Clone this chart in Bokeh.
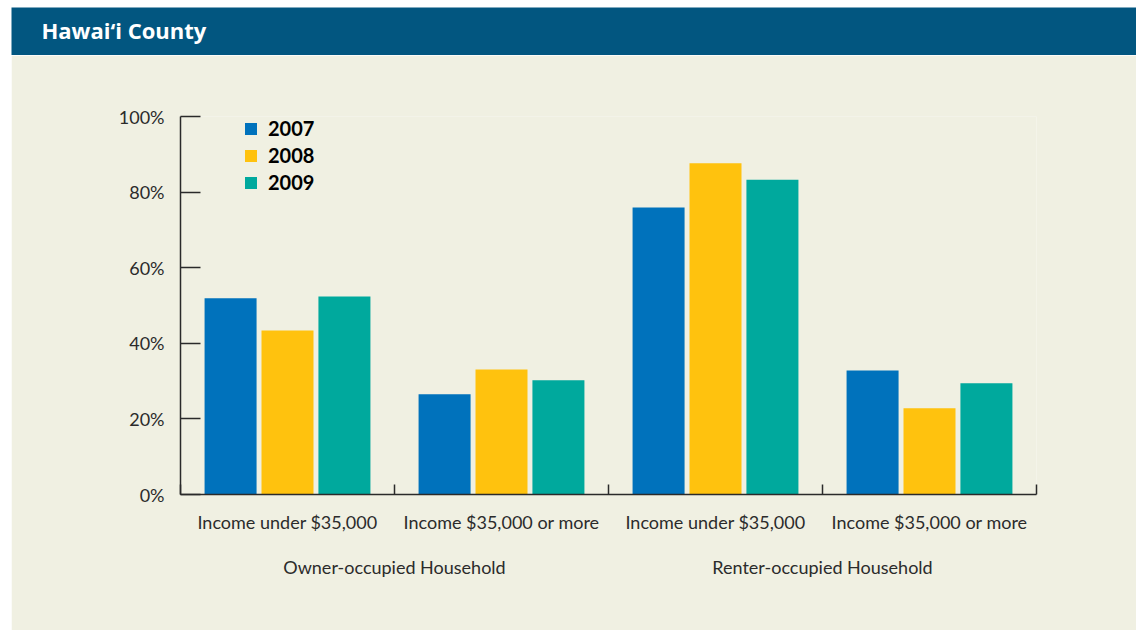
from bokeh.plotting import figure
from bokeh.models import (Range1d, FixedTicker, LinearAxis, Legend, LegendItem,
                          Label, Spacer, PrintfTickFormatter)
from bokeh.layouts import row, column
from bokeh.embed import file_html
from bokeh.resources import INLINE

# ---- data ----
title = "Hawai\u2018i County"
categories = ["Income under $35,000", "Income $35,000 or more",
              "Income under $35,000", "Income $35,000 or more"]
groups = ["Owner-occupied Household", "Renter-occupied Household"]
years = ["2007", "2008", "2009"]
v2007 = [51.9, 26.5, 75.9, 32.8]
v2008 = [43.4, 33.1, 87.6, 22.8]
v2009 = [52.4, 30.2, 83.3, 29.4]
y_ticks = [0, 20, 40, 60, 80, 100]

# ---- style ----
BG = "#F0F0E2"
HEAD = "#025680"
AX = "#2a2a2a"
TXT = "#2b2b2b"
FONT = "Lato"
TFONT = "Open Sans"
colors = ["#0072BC", "#FFC20E", "#00A99D"]
offsets = [-0.266, 0.0, 0.266]
bar_w = 0.243
W = 1125

# ---- header ----
h = figure(width=W, height=48, x_range=Range1d(0, 1), y_range=Range1d(0, 1),
           output_backend="svg", toolbar_location=None, min_border=0,
           x_axis_type=None, y_axis_type=None,
           background_fill_color=HEAD, border_fill_color=HEAD, outline_line_color=None)
h.add_layout(Label(x=30, y=26, x_units="screen", y_units="screen", text=title,
                   text_color="white", text_font=TFONT, text_font_size="22px",
                   text_font_style="bold", text_baseline="middle"))

# ---- main chart ----
p = figure(width=W, height=575, x_range=Range1d(0, 4), y_range=Range1d(0, 100),
           output_backend="svg", toolbar_location=None,
           min_border_left=169, min_border_right=100, min_border_top=61, min_border_bottom=136,
           x_axis_type=None, y_axis_type=None,
           background_fill_color=BG, border_fill_color=BG, outline_line_color=None)

series = [v2007, v2008, v2009]
renderers = []
for k, vals in enumerate(series):
    xs = [i + 0.5 + offsets[k] for i in range(len(categories))]
    r = p.vbar(x=xs, top=vals, width=bar_w, bottom=0, fill_color=colors[k], line_color=None)
    renderers.append(r)

yaxis = LinearAxis(ticker=FixedTicker(ticks=y_ticks), formatter=PrintfTickFormatter(format="%d%%"),
                   major_tick_in=20, major_tick_out=0, minor_tick_line_color=None,
                   axis_line_color=AX, axis_line_width=1.5,
                   major_tick_line_color=AX, major_tick_line_width=1.5,
                   major_label_standoff=16, major_label_text_font=FONT,
                   major_label_text_font_size="18px", major_label_text_color=TXT)
p.add_layout(yaxis, "left")

centers = [i + 0.5 for i in range(len(categories))]
bounds = [i for i in range(len(categories) + 1)]
xaxis = LinearAxis(ticker=FixedTicker(ticks=centers, minor_ticks=bounds),
                   major_label_overrides={c: lab for c, lab in zip(centers, categories)},
                   major_tick_line_color=None, major_tick_in=0, major_tick_out=0,
                   minor_tick_in=10, minor_tick_out=0, minor_tick_line_color=AX, minor_tick_line_width=1.5,
                   axis_line_color=AX, axis_line_width=1.5,
                   major_label_standoff=16, major_label_text_font=FONT,
                   major_label_text_font_size="18px", major_label_text_color=TXT)
p.add_layout(xaxis, "below")

gcent = [1, 3]
gaxis = LinearAxis(ticker=FixedTicker(ticks=gcent),
                   major_label_overrides={c: lab for c, lab in zip(gcent, groups)},
                   axis_line_color=None, major_tick_line_color=None, minor_tick_line_color=None,
                   major_tick_in=0, major_tick_out=0,
                   major_label_standoff=20, major_label_text_font=FONT,
                   major_label_text_font_size="18px", major_label_text_color=TXT)
p.add_layout(gaxis, "below")

legend = Legend(items=[LegendItem(label=y, renderers=[r]) for y, r in zip(years, renderers)],
                location=(63, 300), padding=0, margin=0, spacing=3,
                glyph_width=15, glyph_height=15, label_height=21, label_standoff=10,
                label_text_font=FONT, label_text_font_size="20px", label_text_font_style="bold",
                label_text_color="black", background_fill_alpha=0, border_line_color=None)
p.add_layout(legend, "center")

top = column(Spacer(width=10, height=7), row(Spacer(width=11, height=48), h))
bottom = row(Spacer(width=11, height=575), p)
open("out.html", "w").write(file_html([top, bottom], INLINE))
